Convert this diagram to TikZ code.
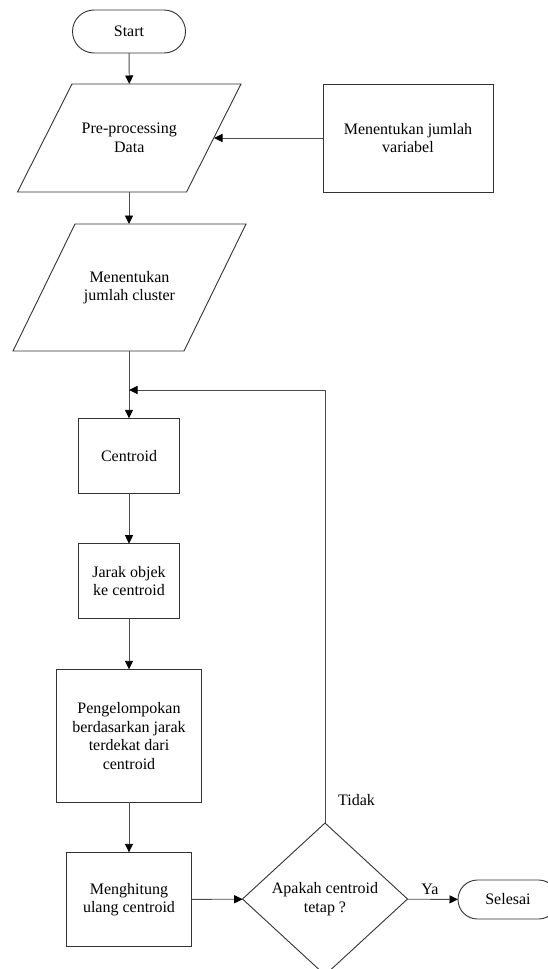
\documentclass[tikz,border=0pt]{standalone}
\usepackage{fontspec}
\setmainfont{Liberation Serif}
\usetikzlibrary{arrows.meta,shapes.geometric,shapes.misc}
\begin{document}
\begin{tikzpicture}[x=1pt,y=-1pt,
  every node/.style={font=\fontsize{16}{18.5}\selectfont, align=center, inner sep=0pt, outer sep=0pt},
  shapeline/.style={draw=black!80, line width=0.9pt},
  term/.style={shapeline, rounded rectangle, minimum width=113pt, minimum height=43pt},
  proc/.style={shapeline, rectangle},
  parabox/.style={rectangle},
  dec/.style={shapeline, diamond, minimum width=165pt, minimum height=152pt, shape aspect=1.085},
  arr/.style={draw=black!70, line width=0.9pt, -{Triangle[length=8.5pt,width=8pt,color=black,fill=black]}},
  lbl/.style={font=\fontsize{16}{18.5}\selectfont}
]
\clip (0,0) rectangle (548,969);
\fill[white] (0,0) rectangle (548,969);

\node[term] (start) at (129,31.5) {Start};
\node[parabox, minimum width=223.5pt, minimum height=108pt] (p1) at (129.25,138) {Pre-processing\\Data};
\draw[shapeline] ([xshift=54.5pt]p1.north west) -- (p1.north east) -- ([xshift=-54.5pt]p1.south east) -- (p1.south west) -- cycle;
\coordinate (p1r) at (214,138);
\node[proc, minimum width=170pt, minimum height=108pt] (var) at (408,138) {Menentukan jumlah\\variabel};
\node[parabox, minimum width=233pt, minimum height=127pt] (p2) at (129.5,287.5) {Menentukan\\jumlah cluster};
\draw[shapeline] ([xshift=62pt]p2.north west) -- (p2.north east) -- ([xshift=-62pt]p2.south east) -- (p2.south west) -- cycle;
\coordinate (merge) at (129,390);
\node[proc, minimum width=100.7pt, minimum height=75pt] (cent) at (129,455.8) {Centroid};
\node[proc, minimum width=100.7pt, minimum height=75pt] (jarak) at (129,581.2) {Jarak objek\\ke centroid};
\node[proc, minimum width=144.7pt, minimum height=133pt] (kel) at (129,735.8) {Pengelompokan\\berdasarkan jarak\\terdekat dari\\centroid};
\node[proc, minimum width=125pt, minimum height=94.4pt] (hit) at (129,899.5) {Menghitung\\ulang centroid};
\node[dec] (dia) at (325,899) {Apakah centroid\\tetap ?};
\node[term, minimum width=100pt, minimum height=39pt] (end) at (508,899.5) {Selesai};
\node[lbl] (tidak) at (356.5,800) {Tidak};
\node[lbl] (ya) at (430,889) {Ya};

\draw[arr] (start) -- (p1.north);
\draw[arr] (var) -- (p1r);
\draw[arr] (p1.south -| start) -- (p2.north -| start);
\draw[arr] (p2.south -| cent) -- (cent.north);
\draw[arr] (dia.north) |- (merge);
\draw[arr] (cent) -- (jarak);
\draw[arr] (jarak) -- (kel);
\draw[arr] (kel) -- (hit);
\draw[arr] (hit) -- (dia);
\draw[arr] (dia) -- (end);
\end{tikzpicture}
\end{document}
